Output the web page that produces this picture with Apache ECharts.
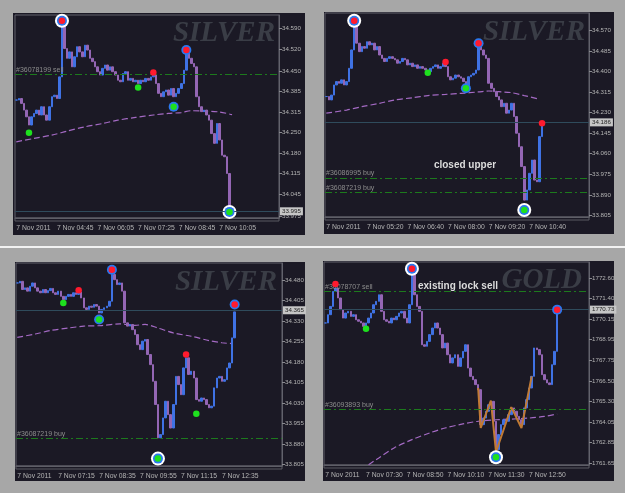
<!DOCTYPE html>
<html>
<head>
<meta charset="utf-8">
<script src="https://cdn.jsdelivr.net/npm/echarts@6/dist/echarts.min.js"></script>
<style>
  html, body { margin: 0; padding: 0; background: #a7a7a7; }
  #chart { width: 625px; height: 493px; }
</style>
</head>
<body>
<div id="chart"></div>
<script>
// ---------- panel 1: SILVER (5 min bars) ----------
const p1Close = [
  34.355, 34.360, 34.344, 34.322, 34.300, 34.273, 34.300, 34.311, 34.322, 34.306,
  34.333, 34.306, 34.289, 34.333, 34.366, 34.371, 34.360, 34.431, 34.606, 34.524,
  34.492, 34.513, 34.464, 34.497, 34.530, 34.513, 34.497, 34.535, 34.519, 34.492,
  34.481, 34.464, 34.448, 34.437, 34.459, 34.470, 34.453, 34.464, 34.448, 34.437,
  34.420, 34.415, 34.442, 34.448, 34.420, 34.426, 34.415, 34.420, 34.409, 34.420,
  34.415, 34.426, 34.420, 34.431, 34.437, 34.409, 34.377, 34.366, 34.382, 34.388,
  34.371, 34.393, 34.366, 34.377, 34.393, 34.409, 34.453, 34.519, 34.492, 34.475,
  34.464, 34.366, 34.333, 34.317, 34.322, 34.306, 34.289, 34.245, 34.213, 34.278,
  34.224, 34.174, 34.169, 34.114, 33.995
];
const p1Ma = [[0, 34.218], [7, 34.229], [14, 34.240], [20, 34.253], [27, 34.267], [34, 34.278], [40, 34.289],
  [47, 34.298], [54, 34.306], [60, 34.311], [65, 34.314], [69, 34.320], [73, 34.319], [80, 34.316], [85, 34.307]];
// [bar, price, side, rings]
const p1Signals = [[5, 34.248, 'buy', 0], [18, 34.615, 'sell', 2], [48, 34.396, 'buy', 0], [54, 34.445, 'sell', 0],
  [62, 34.333, 'buy', 1], [67, 34.519, 'sell', 1], [84, 33.988, 'buy', 2]];
const p1Orders = [[34.440, '#36078199 sell']];
const p1Last = 33.995;
const p1PriceTicks = [34.590, 34.520, 34.450, 34.385, 34.315, 34.250, 34.180, 34.115, 34.045, 33.975];
const p1TimeTicks = ['7 Nov 2011', '7 Nov 04:45', '7 Nov 06:05', '7 Nov 07:25', '7 Nov 08:45', '7 Nov 10:05'];

// ---------- panel 2: SILVER ----------
const p2Close = [
  34.297, 34.283, 34.303, 34.345, 34.359, 34.352, 34.366, 34.345, 34.359, 34.414,
  34.490, 34.600, 34.518, 34.483, 34.504, 34.497, 34.524, 34.511, 34.518, 34.490,
  34.504, 34.469, 34.455, 34.442, 34.455, 34.462, 34.455, 34.449, 34.435, 34.442,
  34.455, 34.449, 34.428, 34.435, 34.421, 34.428, 34.414, 34.421, 34.414, 34.407,
  34.400, 34.414, 34.421, 34.428, 34.414, 34.421, 34.435, 34.421, 34.379, 34.366,
  34.373, 34.386, 34.379, 34.373, 34.359, 34.345, 34.379, 34.386, 34.393, 34.407,
  34.518, 34.490, 34.469, 34.455, 34.352, 34.331, 34.317, 34.297, 34.283, 34.255,
  34.269, 34.228, 34.241, 34.269, 34.214, 34.145, 34.089, 34.007, 33.868, 33.910,
  33.979, 34.034, 33.951, 33.944, 34.131, 34.186
];
const p2Ma = [[0, 34.228], [8, 34.241], [14, 34.255], [21, 34.269], [27, 34.283], [34, 34.292], [40, 34.301],
  [47, 34.306], [53, 34.310], [60, 34.316], [64, 34.320], [68, 34.317], [73, 34.313], [78, 34.301], [84, 34.286]];
const p2Signals = [[11, 34.611, 'sell', 2], [40, 34.396, 'buy', 0], [47, 34.440, 'sell', 0], [55, 34.331, 'buy', 1],
  [60, 34.518, 'sell', 1], [78, 33.827, 'buy', 2], [85, 34.186, 'sell', 0]];
const p2Orders = [[33.962, '#36086995 buy'], [33.900, '#36087219 buy']];
const p2Last = 34.186;
const p2PriceTicks = [34.570, 34.485, 34.400, 34.315, 34.230, 34.145, 34.060, 33.975, 33.890, 33.805];
const p2TimeTicks = ['7 Nov 2011', '7 Nov 05:20', '7 Nov 06:40', '7 Nov 08:00', '7 Nov 09:20', '7 Nov 10:40'];

// ---------- panel 3: SILVER ----------
const p3Close = [
  34.470, 34.476, 34.446, 34.452, 34.440, 34.458, 34.470, 34.452, 34.440, 34.434,
  34.446, 34.434, 34.442, 34.450, 34.434, 34.428, 34.440, 34.421, 34.409, 34.421,
  34.428, 34.421, 34.434, 34.428, 34.437, 34.415, 34.379, 34.373, 34.385, 34.381,
  34.391, 34.385, 34.360, 34.373, 34.379, 34.385, 34.403, 34.501, 34.482, 34.464,
  34.470, 34.440, 34.324, 34.312, 34.318, 34.299, 34.281, 34.244, 34.226, 34.257,
  34.263, 34.208, 34.171, 34.110, 34.025, 33.903, 33.915, 33.976, 34.037, 33.988,
  33.939, 34.025, 34.128, 34.098, 34.061, 34.159, 34.196, 34.135, 34.147, 34.122,
  34.043, 34.037, 34.049, 34.043, 34.025, 34.013, 34.019, 34.086, 34.122, 34.128,
  34.110, 34.116, 34.159, 34.177, 34.269, 34.364
];
const p3Ma = [[0, 34.271], [7, 34.283], [13, 34.296], [20, 34.305], [26, 34.312], [33, 34.314], [40, 34.320],
  [46, 34.315], [50, 34.318], [55, 34.305], [61, 34.287], [68, 34.275], [75, 34.259], [80, 34.251], [84, 34.248]];
const p3Signals = [[18, 34.397, 'buy', 0], [24, 34.443, 'sell', 0], [32, 34.336, 'buy', 1], [37, 34.518, 'sell', 1],
  [55, 33.827, 'buy', 2], [66, 34.208, 'sell', 0], [70, 33.991, 'buy', 0], [85, 34.391, 'sell', 1]];
const p3Orders = [[33.901, '#36087219 buy']];
const p3Last = 34.365;
const p3PriceTicks = [34.480, 34.405, 34.330, 34.255, 34.180, 34.105, 34.030, 33.955, 33.880, 33.805];
const p3TimeTicks = ['7 Nov 2011', '7 Nov 07:15', '7 Nov 08:35', '7 Nov 09:55', '7 Nov 11:15', '7 Nov 12:35'];

// ---------- panel 4: GOLD ----------
const p4Close = [
  1769.94, 1770.43, 1770.92, 1771.81, 1772.01, 1771.42, 1770.73, 1770.23, 1770.53, 1770.63,
  1770.33, 1770.43, 1770.13, 1770.04, 1769.94, 1769.74, 1769.94, 1770.23, 1770.53, 1771.02,
  1771.22, 1771.61, 1770.63, 1770.13, 1770.04, 1769.94, 1770.23, 1770.13, 1770.33, 1770.53,
  1770.63, 1770.23, 1769.94, 1771.02, 1772.99, 1771.61, 1770.92, 1770.63, 1768.65, 1768.56,
  1768.85, 1769.25, 1769.64, 1769.94, 1769.64, 1769.25, 1768.46, 1768.75, 1768.06, 1767.57,
  1767.87, 1768.06, 1767.37, 1767.87, 1768.26, 1768.65, 1767.27, 1766.78, 1766.58, 1766.29,
  1765.99, 1763.92, 1764.31, 1764.71, 1765.10, 1765.30, 1764.12, 1762.44, 1763.33, 1763.92,
  1764.21, 1764.12, 1764.51, 1764.91, 1764.71, 1764.41, 1764.21, 1763.92, 1764.91, 1765.40,
  1766.09, 1766.78, 1768.46, 1768.36, 1768.06, 1766.88, 1766.58, 1766.39, 1766.29, 1767.47,
  1768.26, 1770.73
];
const p4Ma = [[17, 1761.55], [21, 1761.95], [27, 1762.54], [34, 1763.03], [41, 1763.43], [47, 1763.72], [54, 1763.96],
  [60, 1764.12], [67, 1764.21], [73, 1764.25], [80, 1764.31], [86, 1764.41], [91, 1764.55]];
const p4ZigZag = [[60, 1766.09], [61, 1763.72], [65, 1765.34], [67, 1762.30], [73, 1764.96], [77, 1763.72], [81, 1766.78]];
const p4Signals = [[4, 1772.25, 'sell', 0], [16, 1769.60, 'buy', 0], [34, 1773.15, 'sell', 2], [67, 1761.99, 'buy', 2],
  [91, 1770.73, 'sell', 1]];
const p4Orders = [[1771.81, '#36078707 sell'], [1764.83, '#36093893 buy']];
const p4Last = 1770.73;
const p4PriceTicks = [1772.60, 1771.40, 1770.15, 1768.95, 1767.75, 1766.50, 1765.30, 1764.05, 1762.85, 1761.65];
const p4TimeTicks = ['7 Nov 2011', '7 Nov 07:30', '7 Nov 08:50', '7 Nov 10:10', '7 Nov 11:30', '7 Nov 12:50'];

const SLOTS = 104;       // bar slots visible in each window
const LABEL_EVERY = 16;  // one time label every 16 bars

const UP = '#3f72e4';
const DOWN = '#9466b4';
const TEXT = '#b4b4b4';
const FRAME = '#62626c';
const FONT = 'Liberation Sans, sans-serif';

const panels = [
  { close: p1Close, ma: p1Ma, signals: p1Signals, orders: p1Orders, last: p1Last, prices: p1PriceTicks, times: p1TimeTicks,
    digits: 3, min: 33.968, max: 34.634, grid: { left: 15, top: 15, width: 264, height: 203 } },
  { close: p2Close, ma: p2Ma, signals: p2Signals, orders: p2Orders, last: p2Last, prices: p2PriceTicks, times: p2TimeTicks,
    digits: 3, min: 33.798, max: 34.643, grid: { left: 325, top: 13, width: 264, height: 204 } },
  { close: p3Close, ma: p3Ma, signals: p3Signals, orders: p3Orders, last: p3Last, prices: p3PriceTicks, times: p3TimeTicks,
    digits: 3, min: 33.800, max: 34.543, grid: { left: 16, top: 263, width: 266, height: 203 } },
  { close: p4Close, ma: p4Ma, zigzag: p4ZigZag, signals: p4Signals, orders: p4Orders, last: p4Last, prices: p4PriceTicks, times: p4TimeTicks,
    digits: 2, min: 1761.53, max: 1773.55, grid: { left: 324, top: 262, width: 265, height: 203 } }
];

const slots = Array.from({ length: SLOTS }, (_, i) => String(i));

function toCandles(close) {
  return close.map((c, i) => {
    const o = i === 0 ? c : close[i - 1];
    return [o, c, Math.min(o, c), Math.max(o, c)];
  });
}

const grids = [], xAxes = [], yAxes = [], series = [];

panels.forEach((p, k) => {
  grids.push(Object.assign({ show: true, borderColor: FRAME, borderWidth: 1, backgroundColor: 'transparent' }, p.grid));

  xAxes.push({
    gridIndex: k, type: 'category', data: slots, boundaryGap: true,
    axisLine: { lineStyle: { color: FRAME } },
    axisTick: { interval: i => i % LABEL_EVERY === 0, alignWithLabel: true, length: 3, lineStyle: { color: '#8a8a90' } },
    axisLabel: {
      interval: i => i % LABEL_EVERY === 0,
      formatter: (v, i) => p.times[i / LABEL_EVERY] || '',
      align: 'left', color: TEXT, fontSize: 6.8, fontFamily: FONT, margin: 7
    },
    splitLine: { show: false }
  });

  yAxes.push({
    gridIndex: k, type: 'value', position: 'right', min: p.min, max: p.max, scale: true,
    axisLine: { show: true, lineStyle: { color: FRAME } },
    axisTick: { show: true, customValues: p.prices, length: 3, lineStyle: { color: '#8a8a90' } },
    axisLabel: { customValues: p.prices, formatter: v => v.toFixed(p.digits), color: TEXT, fontSize: 6.2, fontFamily: FONT, margin: 3 },
    splitLine: { show: false }
  });

  const markData = p.orders.map(([v, name]) => ({
    yAxis: v,
    lineStyle: { color: '#1d7a1d', type: [7, 3, 2, 3], width: 1 },
    label: { show: true, position: 'insideStartTop', formatter: name, color: '#8c8c8c', fontSize: 7, fontFamily: FONT, distance: 1 }
  }));
  markData.push({
    yAxis: p.last,
    lineStyle: { color: '#2f4b5c', type: 'solid', width: 1 },
    label: {
      show: true, position: 'end', formatter: p.last.toFixed(p.digits), distance: 1,
      color: '#1e1e1e', backgroundColor: '#c6c6c6', padding: [1, 2], fontSize: 6.2, fontFamily: FONT
    }
  });

  series.push({
    type: 'candlestick', xAxisIndex: k, yAxisIndex: k, data: toCandles(p.close),
    barWidth: 2,
    itemStyle: { color: UP, color0: DOWN, borderColor: UP, borderColor0: DOWN, borderWidth: 1 },
    markLine: { silent: true, symbol: ['none', 'none'], data: markData }
  });

  series.push({
    type: 'line', xAxisIndex: k, yAxisIndex: k, data: p.ma, smooth: 0.3, showSymbol: false, z: 1,
    lineStyle: { color: '#a46ac4', width: 1.2, type: [6, 3] }
  });

  if (p.zigzag) {
    series.push({
      type: 'line', xAxisIndex: k, yAxisIndex: k, data: p.zigzag, showSymbol: false, z: 3,
      lineStyle: { color: '#c07a34', width: 2 }
    });
  }

  const pick = f => p.signals.filter(f).map(s => [s[0], s[1]]);
  series.push({
    type: 'scatter', xAxisIndex: k, yAxisIndex: k, z: 4, symbolSize: 14,
    data: pick(s => s[3] === 2), itemStyle: { color: '#ffffff', opacity: 1 }
  });
  series.push({
    type: 'scatter', xAxisIndex: k, yAxisIndex: k, z: 5, symbolSize: 10,
    data: pick(s => s[3] >= 1), itemStyle: { color: '#2a78f0', opacity: 1 }
  });
  series.push({
    type: 'scatter', xAxisIndex: k, yAxisIndex: k, z: 6, symbolSize: 6.5,
    data: pick(s => s[2] === 'sell'), itemStyle: { color: '#ff1a2e', opacity: 1 }
  });
  series.push({
    type: 'scatter', xAxisIndex: k, yAxisIndex: k, z: 6, symbolSize: 6.5,
    data: pick(s => s[2] === 'buy'), itemStyle: { color: '#1ee01e', opacity: 1 }
  });
});

const panelBox = (x, y, w, h) => ({ type: 'rect', z: -10, silent: true, shape: { x, y, width: w, height: h }, style: { fill: '#1b1925' } });
const scrollBar = (x, y, w) => ({ type: 'rect', z: 1, silent: true, shape: { x, y, width: w, height: 3 }, style: { fill: 'none', stroke: '#5a5a62', lineWidth: 1 } });
const watermark = (x, y, text) => ({
  type: 'text', z: 1, silent: true, x, y,
  style: { text, fill: '#3a3d46', font: 'italic bold 29px "Liberation Serif", serif', textAlign: 'right' }
});
const note = (x, y, text) => ({
  type: 'text', z: 7, silent: true, x, y,
  style: { text, fill: '#dcdcdc', font: 'bold 10px "Liberation Sans", sans-serif', textAlign: 'center', textVerticalAlign: 'middle' }
});

const chart = echarts.init(document.getElementById('chart'));
chart.setOption({
  animation: false,
  backgroundColor: '#a7a7a7',
  grid: grids,
  xAxis: xAxes,
  yAxis: yAxes,
  series,
  graphic: [
    { type: 'rect', z: -10, silent: true, shape: { x: 0, y: 246, width: 625, height: 2 }, style: { fill: '#f2f2f2' } },
    panelBox(13, 13, 292, 222),
    panelBox(324, 12, 290, 222),
    panelBox(15, 262, 290, 219),
    panelBox(323, 261, 291, 220),
    scrollBar(15, 218, 264),
    scrollBar(325, 217, 264),
    scrollBar(16, 466, 266),
    scrollBar(324, 465, 265),
    watermark(275, 19, 'SILVER'),
    watermark(585, 18, 'SILVER'),
    watermark(277, 268, 'SILVER'),
    watermark(582, 266, 'GOLD'),
    note(465, 165, 'closed upper'),
    note(458, 286, 'existing lock sell')
  ]
});
</script>
</body>
</html>
